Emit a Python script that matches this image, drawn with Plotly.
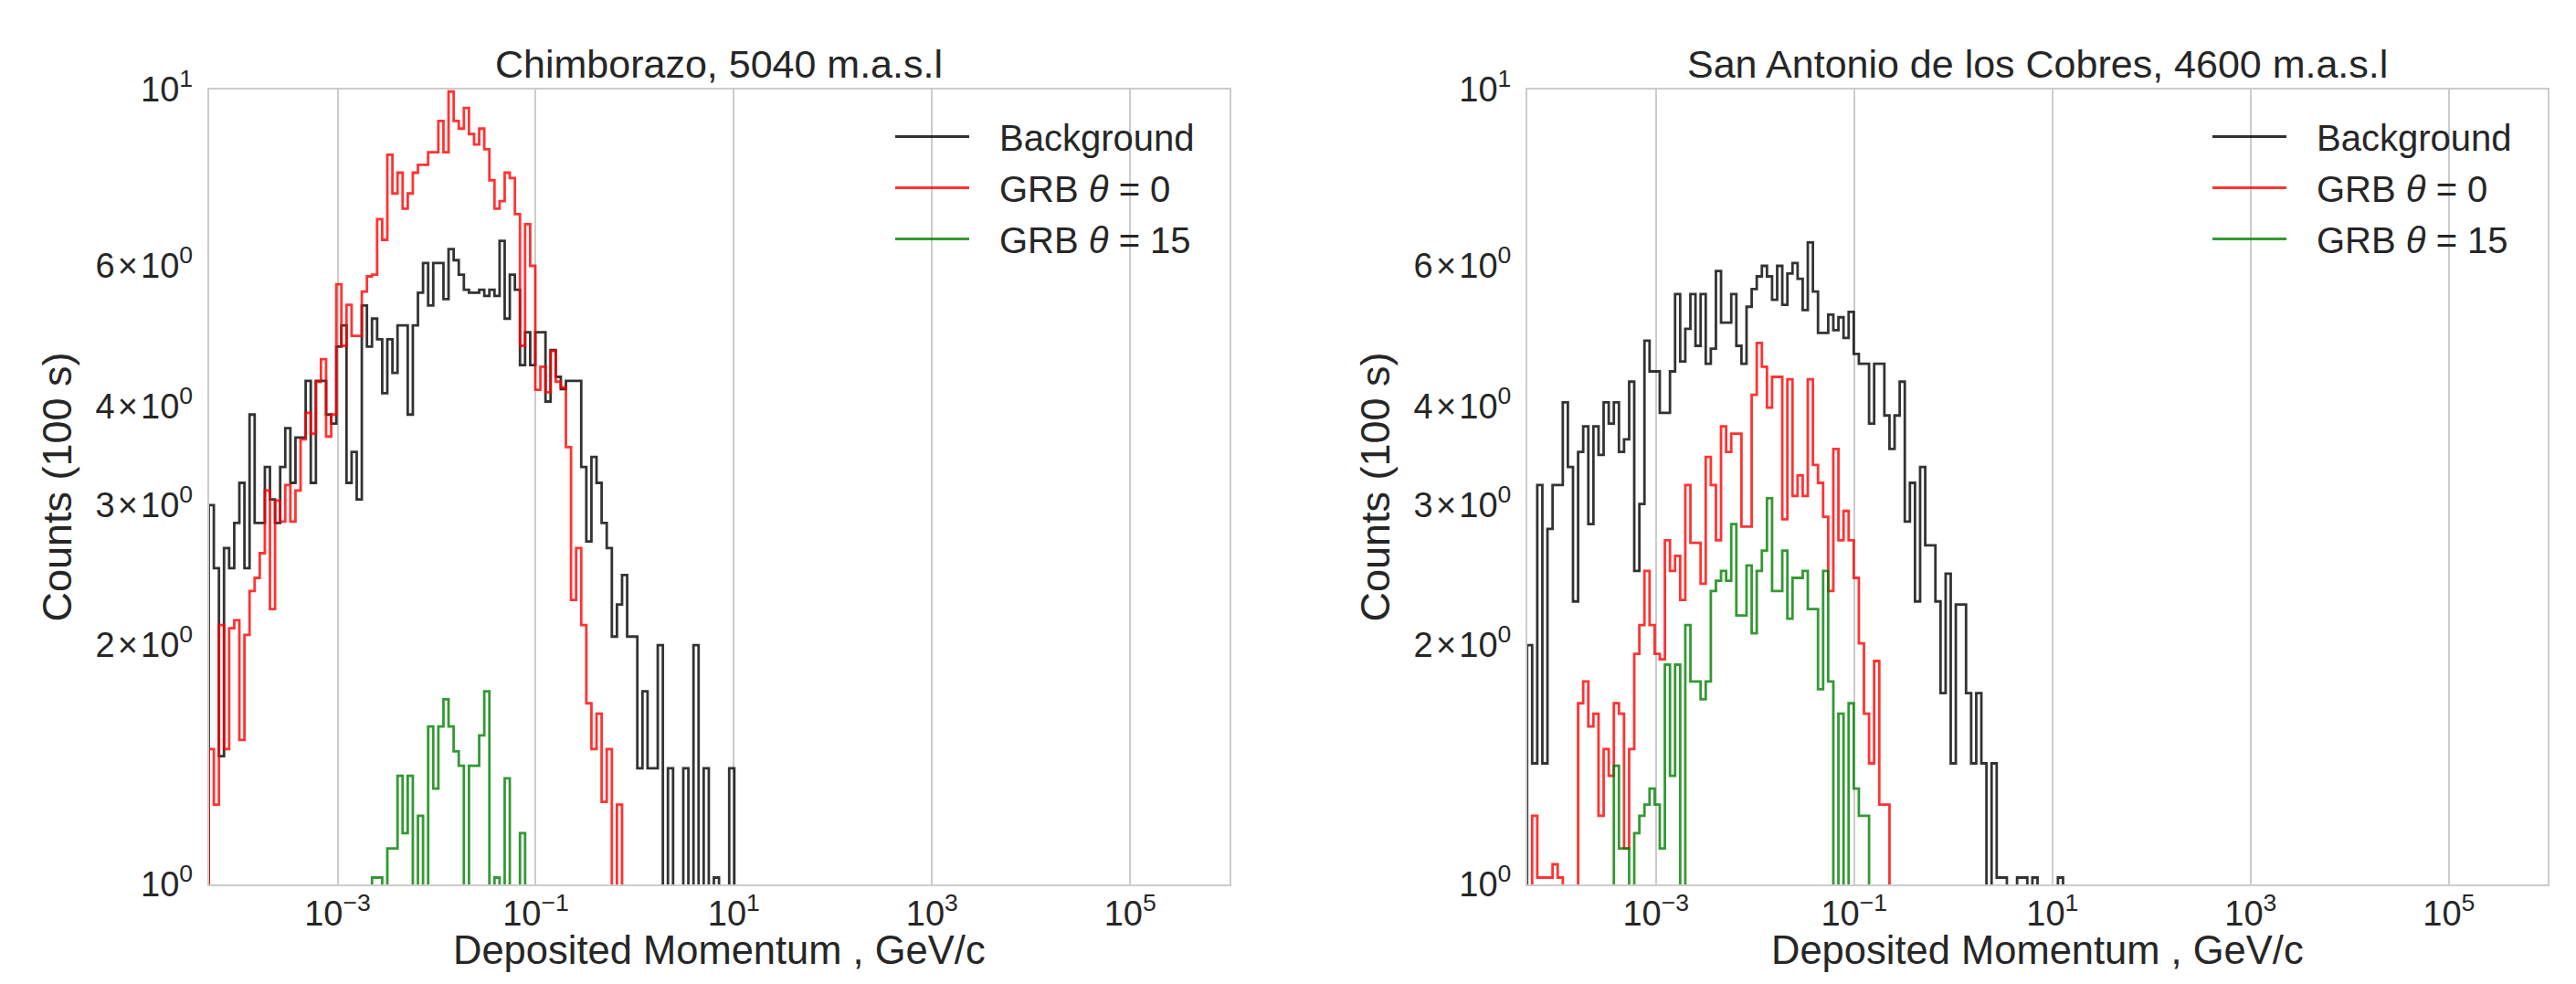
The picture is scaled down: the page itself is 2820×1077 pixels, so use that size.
import numpy as np
import plotly.graph_objects as go

# ---------------- binning (log-spaced histogram bins) ----------------
LOG_LO, LOG_HI, NBINS = -4.3, 6.0, 200
EDGES = np.logspace(LOG_LO, LOG_HI, NBINS + 1)

# ---------------- data: counts per bin (100 s) ----------------
# Chimborazo, 5040 m.a.s.l
CHIM_BG_START = 0
CHIM_BG = [3.0, 2.5, 1.45, 2.65, 2.5, 2.85, 3.2, 2.5, 3.9, 2.85,
           2.85, 3.35, 3.05, 2.85, 3.35, 3.75, 3.2, 3.65, 3.65, 4.3,
           3.2, 4.3, 4.3, 3.9, 3.8, 4.75, 5.05, 3.2, 3.5, 3.05,
           5.35, 4.75, 5.15, 4.85, 4.15, 4.85, 4.4, 5.05, 5.05, 3.9,
           5.05, 5.55, 6.05, 5.35, 6.05, 6.05, 5.45, 6.3, 6.1, 5.85,
           5.6, 5.55, 5.55, 5.6, 5.5, 5.6, 5.5, 6.45, 5.15, 5.85,
           5.6, 4.5, 4.95, 4.5, 4.95, 4.95, 4.05, 4.7, 4.35, 4.2,
           4.3, 4.3, 4.3, 3.35, 2.7, 3.45, 3.2, 2.85, 2.65, 2.05,
           2.25, 2.45, 2.05, 2.05, 1.4, 1.75, 1.4, 1.4, 2.0, 0,
           1.4, 0, 0, 1.4, 0, 2.0, 0, 1.4, 0, 1.02,
           0, 0, 1.4]
CHIM_GRB0_START = 0
CHIM_GRB0 = [1.48, 1.26, 2.12, 1.48, 2.1, 2.15, 1.52, 2.06, 2.34, 2.43,
             2.61, 3.13, 2.22, 3.04, 2.86, 3.18, 2.86, 3.13, 3.63, 3.92,
             3.69, 4.29, 4.58, 3.66, 3.9, 5.69, 4.76, 5.36, 4.9, 4.9,
             5.57, 5.82, 5.85, 6.87, 6.47, 8.28, 7.4, 7.86, 7.08, 7.4,
             7.86, 8.04, 8.04, 8.34, 8.34, 9.13, 8.34, 9.94, 9.13, 8.93,
             9.48, 8.79, 8.53, 8.93, 8.41, 7.69, 7.08, 7.24, 7.86, 7.74,
             6.97, 4.76, 6.77, 6.0, 4.19, 4.48, 4.16, 4.69, 4.29, 4.22,
             3.55, 2.28, 2.65, 2.12, 1.69, 1.48, 1.64, 1.27, 1.48, 0,
             1.26]
CHIM_GRB15_START = 31
CHIM_GRB15 = [0, 1.02, 1.02, 0, 1.11, 1.11, 1.37, 1.16, 1.37, 0,
              1.22, 0, 1.58, 1.32, 1.58, 1.71, 1.58, 1.47, 1.41, 0,
              1.41, 1.41, 1.54, 1.75, 0, 1.02, 0, 1.36, 0, 0,
              1.16]

# San Antonio de los Cobres, 4600 m.a.s.l
SAC_BG_START = 0
SAC_BG = [2.0, 1.42, 3.18, 1.42, 2.8, 3.18, 3.18, 4.04, 3.35, 2.27,
          3.5, 3.77, 2.84, 3.77, 3.47, 4.04, 3.8, 4.04, 3.5, 3.63,
          4.29, 2.48, 3.01, 4.83, 4.42, 4.42, 3.92, 3.92, 4.42, 5.53,
          4.55, 5.0, 5.53, 4.76, 5.53, 4.52, 4.72, 5.91, 5.09, 5.09,
          5.53, 4.76, 4.52, 5.33, 5.61, 5.82, 6.0, 5.82, 5.44, 6.0,
          5.36, 5.87, 6.05, 5.78, 5.28, 6.42, 5.57, 4.94, 4.94, 5.21,
          4.98, 5.17, 4.87, 5.25, 4.65, 4.52, 4.52, 3.8, 4.52, 4.52,
          3.89, 3.53, 3.89, 4.29, 2.86, 3.2, 2.27, 3.35, 2.67, 2.67,
          2.27, 1.74, 2.46, 1.42, 2.25, 2.25, 1.74, 1.42, 1.74, 1.42,
          0, 1.42, 1.02, 1.02, 0, 0, 1.02, 1.02, 0, 1.02,
          0, 0, 0, 0, 1.02]
SAC_GRB0_START = 0
SAC_GRB0 = [0, 1.22, 1.02, 1.02, 1.02, 1.06, 1.02, 0, 0, 0,
            1.69, 1.8, 1.58, 1.64, 1.22, 1.48, 1.37, 1.69, 1.64, 1.11,
            1.48, 1.95, 2.12, 2.48, 2.12, 1.95, 1.92, 2.71, 2.48, 2.59,
            2.28, 3.18, 2.69, 2.69, 2.39, 3.45, 3.18, 2.71, 3.77, 3.5,
            3.69, 3.69, 2.82, 2.82, 4.13, 4.8, 4.48, 3.98, 4.35, 4.35,
            2.88, 4.32, 3.08, 3.27, 3.08, 4.32, 3.37, 3.2, 2.9, 2.34,
            3.53, 2.71, 2.95, 2.71, 2.43, 2.01, 1.64, 1.42, 1.91, 1.26,
            1.26]
SAC_GRB15_START = 17
SAC_GRB15 = [1.41, 1.11, 1.11, 0, 1.16, 1.22, 1.26, 1.32, 1.26, 1.11,
             1.89, 1.37, 1.89, 0, 2.12, 1.8, 1.8, 1.71, 1.8, 2.34,
             2.41, 2.48, 2.41, 2.84, 2.18, 2.18, 2.52, 2.07, 2.48, 2.63,
             3.06, 2.34, 2.34, 2.63, 2.16, 2.43, 2.43, 2.48, 2.22, 2.22,
             1.76, 2.48, 1.8, 0, 1.64, 0, 1.69, 1.32, 1.22, 1.22]

PANELS = [
    ("Chimborazo, 5040 m.a.s.l", [(CHIM_BG_START, CHIM_BG), (CHIM_GRB0_START, CHIM_GRB0), (CHIM_GRB15_START, CHIM_GRB15)]),
    ("San Antonio de los Cobres, 4600 m.a.s.l", [(SAC_BG_START, SAC_BG), (SAC_GRB0_START, SAC_GRB0), (SAC_GRB15_START, SAC_GRB15)]),
]
SERIES_NAMES = ["Background", "GRB <i>θ</i> = 0", "GRB <i>θ</i> = 15"]
SERIES_COLORS = ["rgba(0,0,0,0.8)", "rgba(255,0,0,0.8)", "rgba(0,128,0,0.8)"]
X_TITLE = "Deposited Momentum , GeV/c"
Y_TITLE = "Counts (100 s)"

X_TICKS = [1e-3, 1e-1, 1e1, 1e3, 1e5]
X_TICKTEXT = ["10<sup>−3</sup>", "10<sup>−1</sup>", "10<sup>1</sup>", "10<sup>3</sup>", "10<sup>5</sup>"]
Y_TICKS = [1, 2, 3, 4, 6, 10]
Y_TICKTEXT = ["10<sup>0</sup>", "2\u200a×\u200a10<sup>0</sup>", "3\u200a×\u200a10<sup>0</sup>",
              "4\u200a×\u200a10<sup>0</sup>", "6\u200a×\u200a10<sup>0</sup>", "10<sup>1</sup>"]

FLOOR = 0.1  # empty bins drop below the visible log range
LEGEND_PAD = "\u2002\u2009"  # gap between the legend key line and its label


def step_xy(start, counts):
    e = EDGES[start:start + len(counts) + 1]
    ys = [max(c, FLOOR) for c in counts]
    x = [e[0]] + list(e[:-1]) + [e[-1], e[-1]]
    y = [FLOOR] + ys + [ys[-1], FLOOR]
    return x, y


W, H = 2820, 1077
FONT = "Liberation Sans, Arial, sans-serif"
TXT = "#262626"
GRID = "#cccccc"

fig = go.Figure()
x_domains = [[228.5 / W, 1345.7 / W], [1671.7 / W, 2789.3 / W]]
y_domain = [1 - 968 / H, 1 - 98 / H]
legend_x = [975 / W, 2417 / W]

for p, (title, series) in enumerate(PANELS):
    xa = "x" if p == 0 else "x2"
    ya = "y" if p == 0 else "y2"
    lg = "legend" if p == 0 else "legend2"
    for s, (start, counts) in enumerate(series):
        x, y = step_xy(start, counts)
        fig.add_trace(go.Scatter(
            x=x, y=y, mode="lines", line=dict(shape="hv", color=SERIES_COLORS[s], width=2.8),
            name=LEGEND_PAD + SERIES_NAMES[s], xaxis=xa, yaxis=ya, legend=lg,
            legendgroup=f"p{p}s{s}", hoverinfo="skip"))
    cx = sum(x_domains[p]) / 2
    fig.add_annotation(text=title, x=cx, y=1 - 70 / H, xref="paper", yref="paper",
                       xanchor="center", yanchor="middle", showarrow=False,
                       font=dict(family=FONT, size=43, color=TXT))
    # x-axis title, placed just under the tick labels
    fig.add_annotation(text=X_TITLE, x=cx, y=1 - 1040 / H, xref="paper", yref="paper",
                       xanchor="center", yanchor="middle", showarrow=False,
                       font=dict(family=FONT, size=43.5, color=TXT))

axis_common = dict(showline=True, mirror=True, linecolor=GRID, linewidth=1.5, ticks="",
                   zeroline=False, automargin=False, tickfont=dict(family=FONT, size=38, color=TXT))
for p in range(2):
    sfx = "" if p == 0 else "2"
    fig.layout["xaxis" + sfx] = dict(
        axis_common, domain=x_domains[p], anchor="y" + sfx, type="log", range=[LOG_LO, LOG_HI],
        tickmode="array", tickvals=X_TICKS, ticktext=X_TICKTEXT,
        showgrid=True, gridcolor=GRID, gridwidth=1.5, ticklabelstandoff=-2)
    fig.layout["yaxis" + sfx] = dict(
        axis_common, domain=y_domain, anchor="x" + sfx, type="log", range=[0, 1],
        tickmode="array", tickvals=Y_TICKS, ticktext=Y_TICKTEXT, showgrid=False, ticklabelstandoff=8,
        title=dict(text=Y_TITLE, font=dict(family=FONT, size=45, color=TXT), standoff=12))
    fig.layout["legend" + sfx] = dict(
        x=legend_x[p], y=1 - 117 / H, xref="paper", yref="paper", xanchor="left", yanchor="top",
        bgcolor="rgba(0,0,0,0)", tracegroupgap=1, itemwidth=81,
        font=dict(family=FONT, size=40, color=TXT))

fig.update_layout(width=W, height=H, margin=dict(l=0, r=0, t=0, b=0, autoexpand=False),
                  paper_bgcolor="white", plot_bgcolor="white", showlegend=True)

fig.write_html("out.html")
